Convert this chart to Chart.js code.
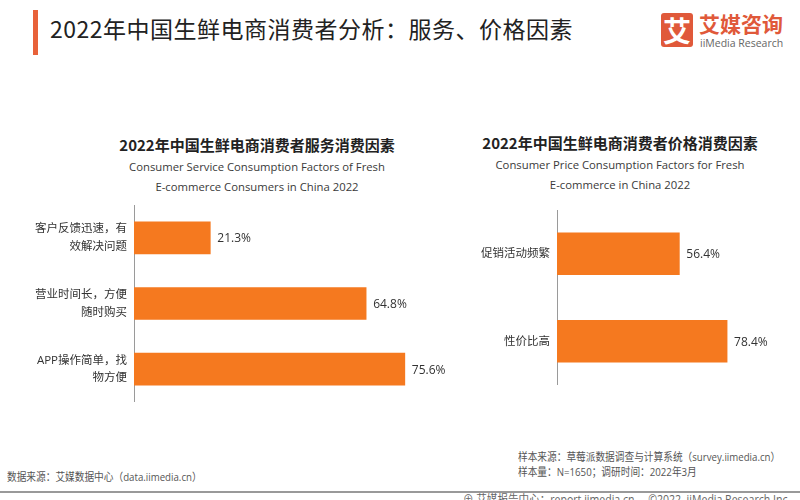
<!DOCTYPE html>
<html>
<head>
<meta charset="utf-8">
<script src="https://cdn.jsdelivr.net/npm/chart.js@4"></script>
<style>
  html,body{margin:0;padding:0;background:#fff;}
  body{width:800px;height:500px;position:relative;overflow:hidden;font-family:'Open Sans','Noto Sans CJK SC',sans-serif;}
  .abs{position:absolute;white-space:nowrap;}
  #mainTitle{left:50px;top:12px;font-family:'Noto Sans CJK SC',sans-serif;font-size:23px;letter-spacing:0.5px;color:#222;line-height:32px;}
  #mark{left:33px;top:10px;width:5px;height:45px;background:#E8623A;}
  #logoBox{left:661px;top:13px;width:32px;height:34px;background:#E0593A;border-radius:3px;color:#fff;font-family:'Noto Sans CJK SC',sans-serif;font-weight:bold;font-size:28px;line-height:34px;text-align:center;}
  #logoCn{left:699px;top:9px;font-family:'Noto Sans CJK SC',sans-serif;font-weight:bold;font-size:21px;color:#E0593A;line-height:28px;}
  #logoEn{left:700px;top:35px;font-family:'Open Sans',sans-serif;font-size:10.5px;color:#666;line-height:16px;}
  .ctitle{font-family:'Noto Sans CJK SC',sans-serif;font-weight:bold;font-size:15px;color:#222;line-height:20px;transform:translateX(-50%);}
  .csub{font-size:11.3px;color:#3a3a3a;line-height:16px;transform:translateX(-50%);}
  .foot{font-size:11px;color:#555;line-height:16px;transform-origin:0 50%;transform:scaleX(0.88);}
  #rule{left:0;top:491px;width:800px;height:2px;background:#999;}
  canvas{position:absolute;}
</style>
</head>
<body>
<div class="abs" id="mark"></div>
<div class="abs" id="mainTitle">2022年中国生鲜电商消费者分析：服务、价格因素</div>
<div class="abs" id="logoBox">艾</div>
<div class="abs" id="logoCn">艾媒咨询</div>
<div class="abs" id="logoEn">iiMedia Research</div>

<div class="abs ctitle" style="left:257px;top:135px;">2022年中国生鲜电商消费者服务消费因素</div>
<div class="abs csub" style="left:257px;top:159px;">Consumer Service Consumption Factors of Fresh</div>
<div class="abs csub" style="left:257px;top:179px;">E-commerce Consumers in China 2022</div>

<div class="abs ctitle" style="left:620px;top:133px;">2022年中国生鲜电商消费者价格消费因素</div>
<div class="abs csub" style="left:620px;top:157px;">Consumer Price Consumption Factors for Fresh</div>
<div class="abs csub" style="left:620px;top:177px;">E-commerce in China 2022</div>

<canvas id="c1" width="460" height="197" style="left:0;top:205px;"></canvas>
<canvas id="c2" width="340" height="175" style="left:460px;top:210px;"></canvas>

<div class="abs foot" style="left:7px;top:469px;">数据来源：艾媒数据中心（data.iimedia.cn）</div>
<div class="abs foot" style="left:518px;top:449px;">样本来源：草莓派数据调查与计算系统（survey.iimedia.cn）</div>
<div class="abs foot" style="left:518px;top:464px;">样本量：N=1650；调研时间：2022年3月</div>
<div class="abs" id="rule"></div>
<div class="abs foot" style="left:463px;top:492px;color:#666;font-size:12px;">⊕ 艾媒报告中心：report.iimedia.cn &nbsp;&nbsp;&nbsp;&nbsp;©2022 &nbsp;iiMedia Research Inc</div>

<script>
const serviceCategories = [["客户反馈迅速，有","效解决问题"],["营业时间长，方便","随时购买"],["APP操作简单，找","物方便"]];
const serviceValues = [21.3, 64.8, 75.6];
const priceCategories = ["促销活动频繁","性价比高"];
const priceValues = [56.4, 78.4];

const BAR_COLOR = '#F5791F';
const FONT = "'Open Sans','Noto Sans CJK SC',sans-serif";

const valueLabels = {
  id: 'valueLabels',
  afterDatasetsDraw(chart) {
    const ctx = chart.ctx;
    ctx.save();
    ctx.font = "12px " + FONT;
    ctx.fillStyle = '#333';
    ctx.textAlign = 'left';
    ctx.textBaseline = 'middle';
    const meta = chart.getDatasetMeta(0);
    meta.data.forEach((el, i) => {
      const v = chart.data.datasets[0].data[i];
      ctx.fillText(v.toFixed(1) + '%', el.x + 7, el.y + 1);
    });
    ctx.restore();
  }
};

function makeChart(id, labels, values, axisWidth, xMax, thickness) {
  return new Chart(document.getElementById(id), {
    type: 'bar',
    data: {
      labels: labels,
      datasets: [{ data: values, backgroundColor: BAR_COLOR, borderWidth: 0, barThickness: thickness }]
    },
    options: {
      indexAxis: 'y',
      responsive: false,
      animation: false,
      layout: { padding: 0 },
      plugins: { legend: { display: false }, tooltip: { enabled: false }, title: { display: false } },
      scales: {
        x: { display: false, min: 0, max: xMax },
        y: {
          afterFit(scale) { scale.width = axisWidth; scale.paddingTop = 0; scale.paddingBottom = 0; },
          grid: { display: false, drawTicks: false },
          border: { display: true, color: '#9a9a9a', width: 1 },
          ticks: { color: '#333', padding: 7, font: { size: 11.5, family: FONT, lineHeight: 1.55 } }
        }
      }
    },
    plugins: [valueLabels]
  });
}

makeChart('c1', serviceCategories, serviceValues, 134, 91, 32);
makeChart('c2', priceCategories, priceValues, 97, 112, 42);
</script>
</body>
</html>
